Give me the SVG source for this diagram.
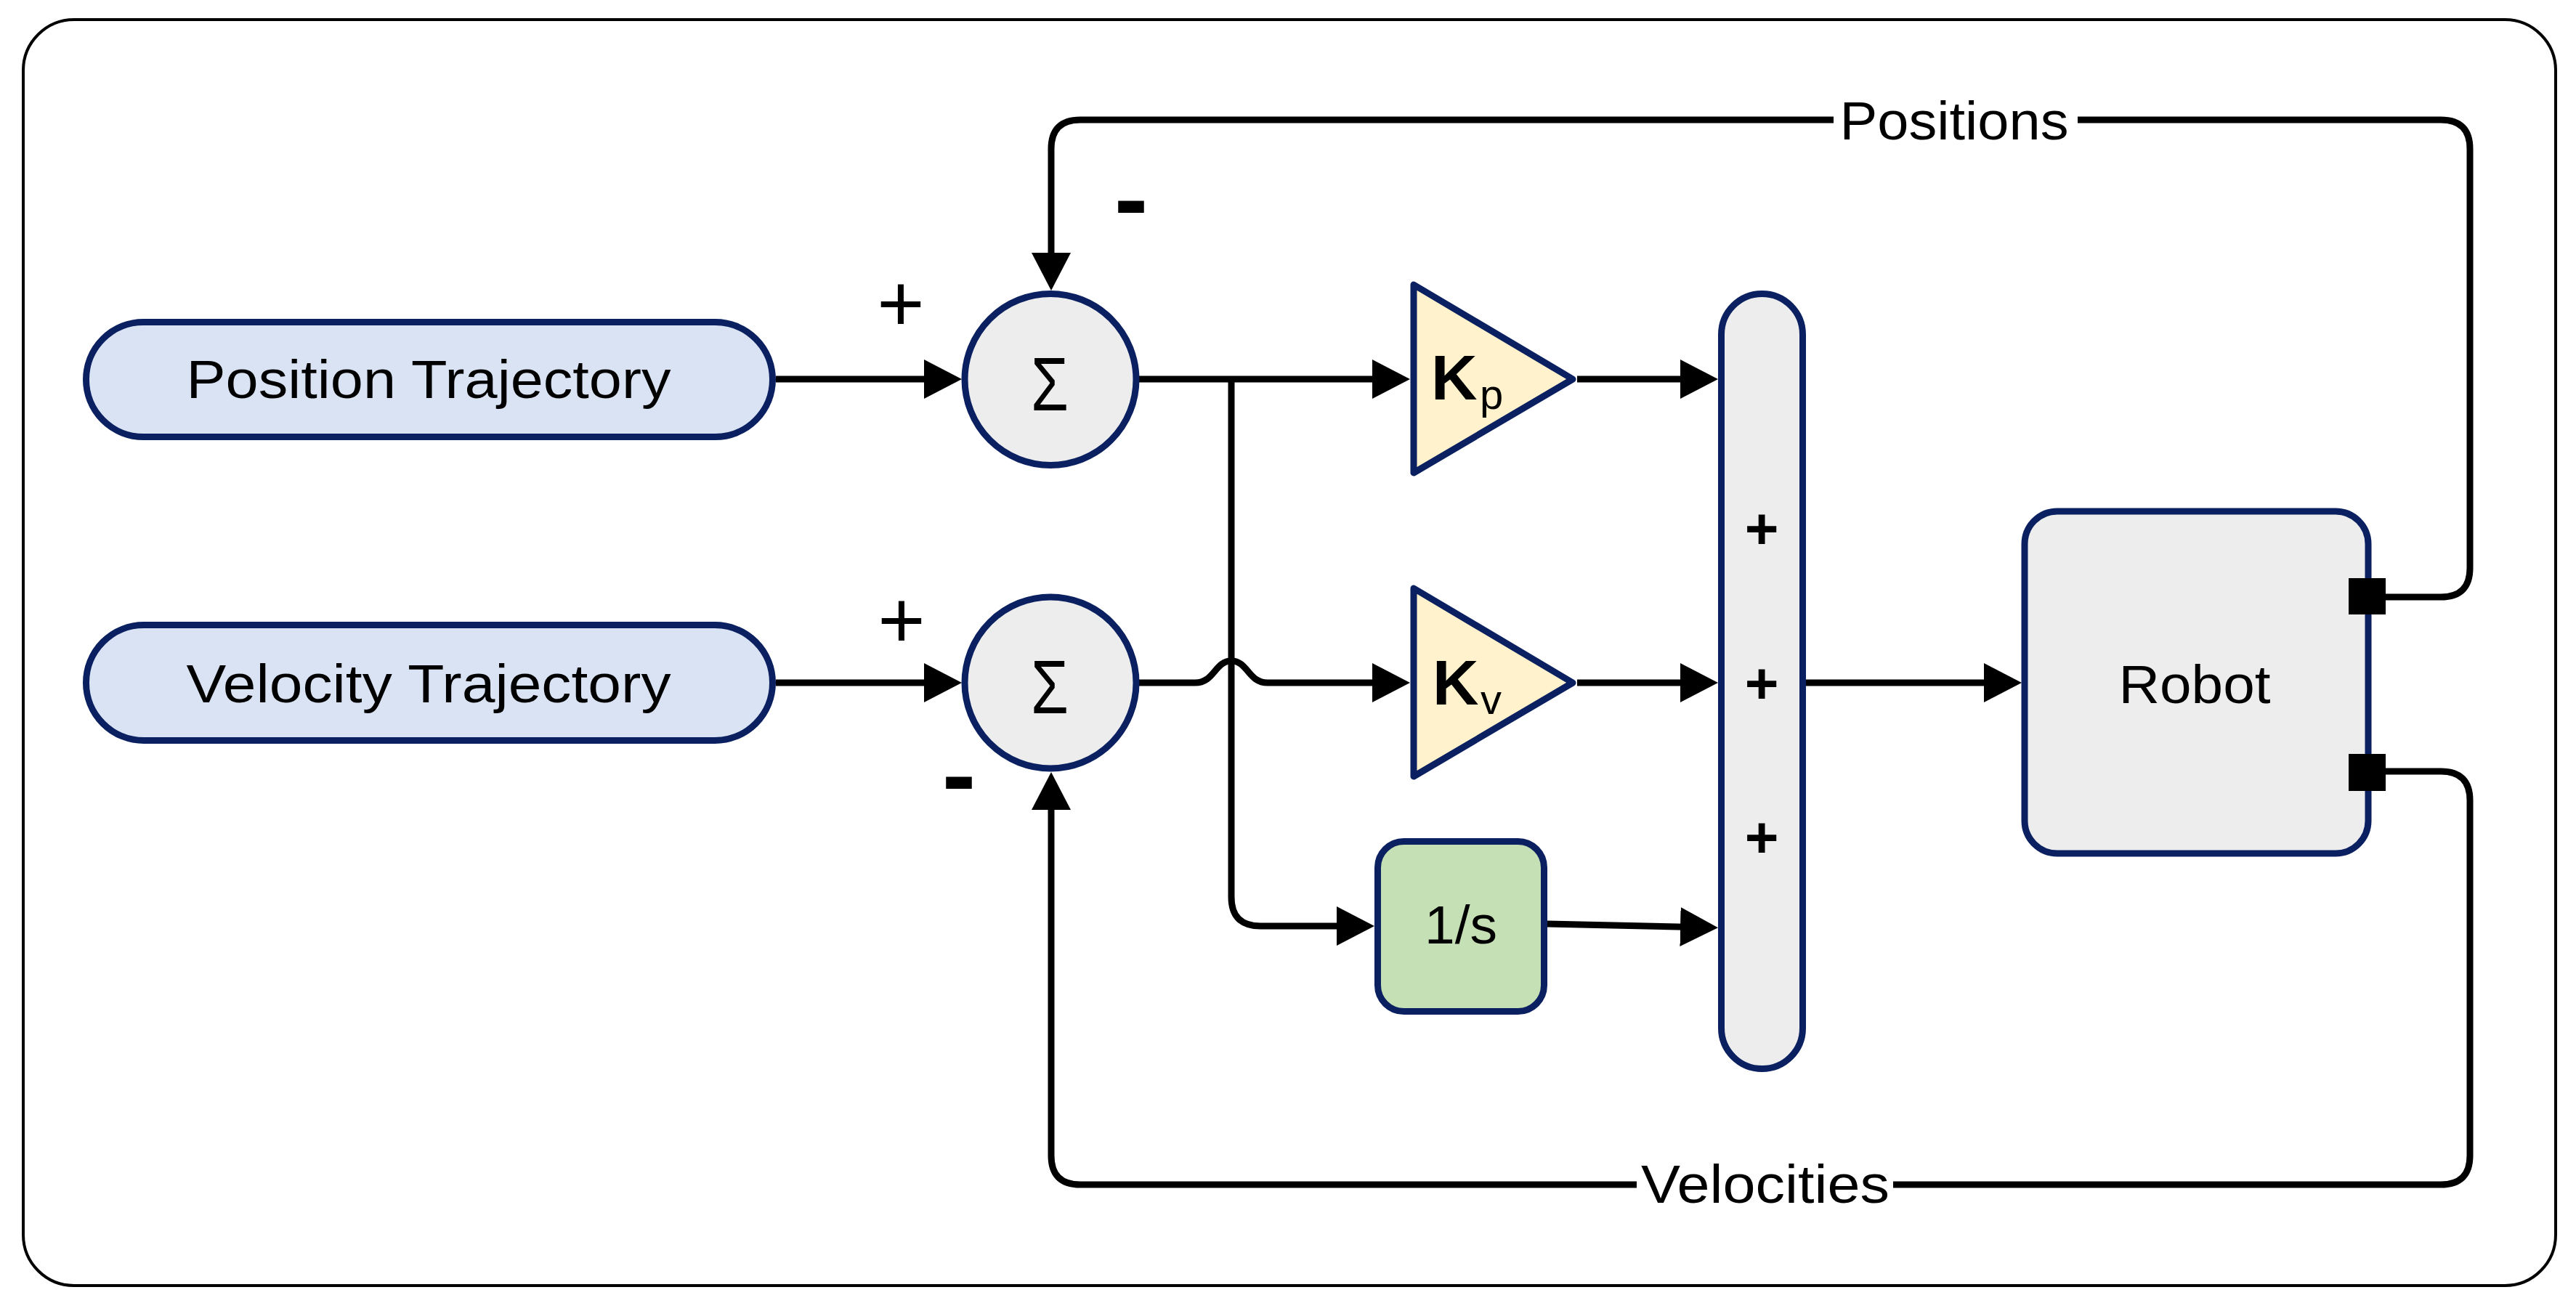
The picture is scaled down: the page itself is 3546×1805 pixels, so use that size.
<svg xmlns="http://www.w3.org/2000/svg" width="3546" height="1805" viewBox="0 0 3546 1805">
<style>
  text { font-family: "Liberation Sans", Arial, sans-serif; fill: #000; }
  .lbl { font-size: 75px; }
  .node { stroke: #0a2060; stroke-width: 9; }
  .pill { fill: #dae3f3; }
  .gray { fill: #ededed; }
  .gain { fill: #fff2cc; stroke-linejoin: round; }
  .integ { fill: #c5e0b4; }
  .wire { fill: none; stroke: #000; stroke-width: 9; }
  .sign { font-size: 112px; }
  .minus { font-size: 140px; font-weight: bold; }
  .bplus { font-size: 80px; font-weight: bold; }
  .sigma { font-size: 104px; }
  .k { font-size: 88px; font-weight: bold; }
  .sub { font-size: 58px; }
</style>
<defs>
  <marker id="arr" markerUnits="userSpaceOnUse" viewBox="0 0 52 54" markerWidth="52" markerHeight="54" refX="42" refY="27" orient="auto">
    <path d="M0,0 L52,27 L0,54 Z" fill="#000"/>
  </marker>
</defs>
<rect width="3546" height="1805" fill="#fff"/>
<rect id="frame" x="32" y="27" width="3486" height="1743" rx="70" fill="none" stroke="#000" stroke-width="4"/>

<g id="connectors">
  <path class="wire" d="M1068,522 L1314,522" marker-end="url(#arr)"/>
  <path class="wire" d="M1068,940 L1314,940" marker-end="url(#arr)"/>
  <path class="wire" d="M1567,522 L1931,522" marker-end="url(#arr)"/>
  <path class="wire" d="M1695,522 L1695,1235 Q1695,1275 1735,1275 L1882,1275" marker-end="url(#arr)"/>
  <path class="wire" d="M1567,940 L1645,940 C1672,940 1672,910 1695,910 C1718,910 1718,940 1745,940 L1931,940" marker-end="url(#arr)"/>
  <path class="wire" d="M2171,522 L2355,522" marker-end="url(#arr)"/>
  <path class="wire" d="M2171,940 L2355,940" marker-end="url(#arr)"/>
  <path class="wire" d="M2130,1272 L2355,1277" marker-end="url(#arr)"/>
  <path class="wire" d="M2486,940 L2773,940" marker-end="url(#arr)"/>
  <path class="wire" d="M3284,822 L3360,822 Q3400,822 3400,782 L3400,205 Q3400,165 3360,165 L1487,165 Q1447,165 1447,205 L1447,390" marker-end="url(#arr)"/>
  <path class="wire" d="M3284,1062 L3360,1062 Q3400,1062 3400,1102 L3400,1591 Q3400,1631 3360,1631 L1487,1631 Q1447,1631 1447,1591 L1447,1073" marker-end="url(#arr)"/>
  <rect x="2524" y="125" width="336" height="80" fill="#fff"/>
  <text class="lbl" x="2690" y="192" text-anchor="middle" textLength="315" lengthAdjust="spacingAndGlyphs">Positions</text>
  <rect x="2253" y="1591" width="353" height="80" fill="#fff"/>
  <text class="lbl" x="2430" y="1656" text-anchor="middle" textLength="342" lengthAdjust="spacingAndGlyphs">Velocities</text>
  <text class="sign" x="1240" y="456" text-anchor="middle">+</text>
  <text class="minus" x="1557" y="321" text-anchor="middle">-</text>
  <text class="sign" x="1241" y="892" text-anchor="middle">+</text>
  <text class="minus" x="1320" y="1114" text-anchor="middle">-</text>
</g>

<g id="position-trajectory">
  <rect class="node pill" x="118.5" y="443.5" width="945" height="158" rx="79"/>
  <text class="lbl" x="590" y="548" text-anchor="middle" textLength="667" lengthAdjust="spacingAndGlyphs">Position Trajectory</text>
</g>
<g id="velocity-trajectory">
  <rect class="node pill" x="118.5" y="860.5" width="945" height="159" rx="79.5"/>
  <text class="lbl" x="590" y="967" text-anchor="middle" textLength="667" lengthAdjust="spacingAndGlyphs">Velocity Trajectory</text>
</g>
<g id="sum-position">
  <circle class="node gray" cx="1446" cy="522.5" r="118"/>
  <text class="sigma" x="1445" y="565" text-anchor="middle" textLength="52" lengthAdjust="spacingAndGlyphs">Σ</text>
</g>
<g id="sum-velocity">
  <circle class="node gray" cx="1446" cy="940" r="118"/>
  <text class="sigma" x="1445" y="982" text-anchor="middle" textLength="52" lengthAdjust="spacingAndGlyphs">Σ</text>
</g>
<g id="gain-kp">
  <polygon class="node gain" points="1946,392 2165,522 1946,651"/>
  <text class="k" x="1970" y="550">K</text>
  <text class="sub" x="2037" y="563">p</text>
</g>
<g id="gain-kv">
  <polygon class="node gain" points="1946,810 2165,940 1946,1069"/>
  <text class="k" x="1972" y="970">K</text>
  <text class="sub" x="2038" y="983">v</text>
</g>
<g id="integrator">
  <rect class="node integ" x="1896.5" y="1158.5" width="229" height="234" rx="36"/>
  <text class="lbl" x="2011" y="1299" text-anchor="middle">1/s</text>
</g>
<g id="summing-bar">
  <rect class="node gray" x="2369.5" y="404.5" width="112" height="1067" rx="56"/>
  <text class="bplus" x="2425" y="755" text-anchor="middle">+</text>
  <text class="bplus" x="2425" y="968" text-anchor="middle">+</text>
  <text class="bplus" x="2425" y="1180" text-anchor="middle">+</text>
</g>
<g id="robot">
  <rect class="node gray" x="2787" y="704" width="473" height="471" rx="45"/>
  <text class="lbl" x="3021" y="968" text-anchor="middle" textLength="209" lengthAdjust="spacingAndGlyphs">Robot</text>
  <rect x="3233" y="796" width="51" height="50" fill="#000"/>
  <rect x="3233" y="1038" width="51" height="51" fill="#000"/>
</g>
</svg>
